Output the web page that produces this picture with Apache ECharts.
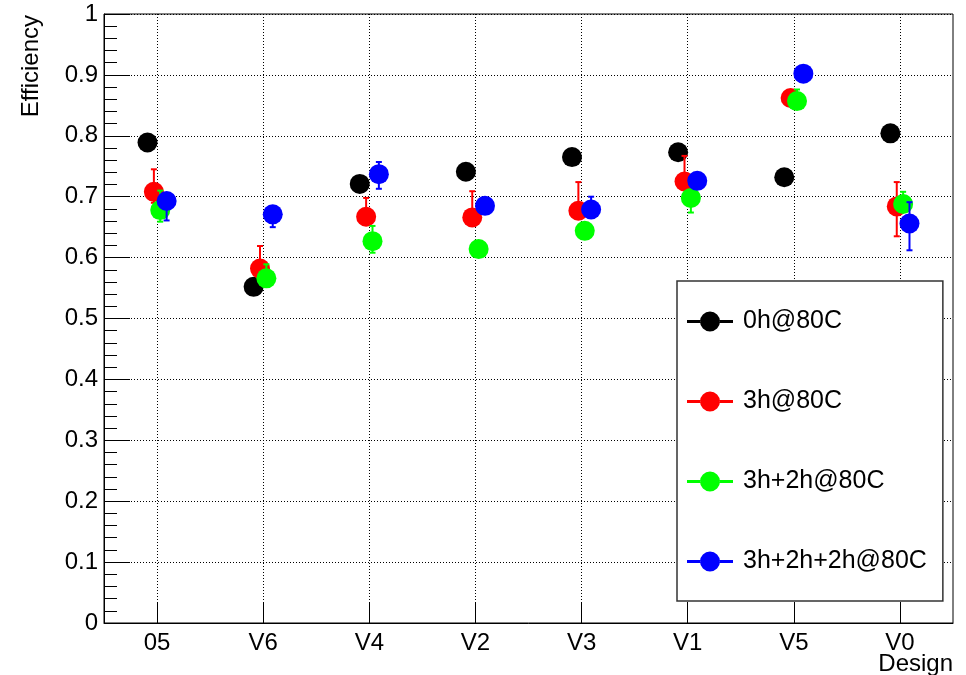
<!DOCTYPE html>
<html>
<head>
<meta charset="utf-8">
<script src="https://cdn.jsdelivr.net/npm/echarts@6/dist/echarts.min.js"></script>
<style>
html,body{margin:0;padding:0;background:#fff;}
#chart{width:966px;height:675px;}
</style>
</head>
<body>
<div id="chart"></div>
<script>
// ---- data ----
const categories = ['05', 'V6', 'V4', 'V2', 'V3', 'V1', 'V5', 'V0'];
const yTicks = [0, 0.1, 0.2, 0.3, 0.4, 0.5, 0.6, 0.7, 0.8, 0.9, 1];
const seriesNames = ['0h@80C', '3h@80C', '3h+2h@80C', '3h+2h+2h@80C'];

const eff0h       = [0.789, 0.552, 0.721, 0.741, 0.765, 0.773, 0.732, 0.804];
const eff3h       = [0.708, 0.582, 0.667, 0.666, 0.677, 0.725, 0.862, 0.684];
const eff3h2h     = [0.678, 0.566, 0.627, 0.614, 0.644, 0.698, 0.857, 0.688];
const eff3h2h2h   = [0.693, 0.671, 0.737, 0.685, 0.679, 0.726, 0.902, 0.656];

const errLow0h     = [0.010, 0.010, 0.010, 0.010, 0.010, 0.010, 0.010, 0.010];
const errHigh0h    = [0.010, 0.010, 0.010, 0.010, 0.010, 0.010, 0.010, 0.010];
const errLow3h     = [0.018, 0.015, 0.012, 0.012, 0.012, 0.012, 0.012, 0.049];
const errHigh3h    = [0.037, 0.037, 0.031, 0.043, 0.047, 0.042, 0.012, 0.040];
const errLow3h2h   = [0.019, 0.012, 0.019, 0.012, 0.012, 0.024, 0.012, 0.012];
const errHigh3h2h  = [0.032, 0.023, 0.025, 0.012, 0.012, 0.012, 0.019, 0.020];
const errLow3h2h2h = [0.032, 0.021, 0.024, 0.012, 0.012, 0.012, 0.012, 0.044];
const errHigh3h2h2h= [0.012, 0.012, 0.020, 0.012, 0.021, 0.012, 0.012, 0.035];

// ---- styling ----
const FONT = 'Liberation Sans, Arial, Helvetica, sans-serif';
const colors = ['#000000', '#ff0000', '#00ff00', '#0000ff'];
const offsets = [-0.09, -0.03, 0.03, 0.09];
const values = [eff0h, eff3h, eff3h2h, eff3h2h2h];
const lows = [errLow0h, errLow3h, errLow3h2h, errLow3h2h2h];
const highs = [errHigh0h, errHigh3h, errHigh3h2h, errHigh3h2h2h];

const legendIcon = 'path://M13,10 A10,10 0 1,0 33,10 A10,10 0 1,0 13,10 Z M0,8.5 L13.2,8.5 L13.2,11.5 L0,11.5 Z M32.8,8.5 L46,8.5 L46,11.5 L32.8,11.5 Z';

function errRender(color) {
  return function (params, api) {
    const x = api.value(0), y = api.value(1), lo = api.value(2), hi = api.value(3);
    const pT = api.coord([x, y + hi]);
    const pB = api.coord([x, y - lo]);
    const c = 3;
    const st = { stroke: color, lineWidth: 2 };
    return {
      type: 'group',
      children: [
        { type: 'line', shape: { x1: pT[0], y1: pT[1], x2: pB[0], y2: pB[1] }, style: st },
        { type: 'line', shape: { x1: pT[0] - c, y1: pT[1], x2: pT[0] + c, y2: pT[1] }, style: st },
        { type: 'line', shape: { x1: pB[0] - c, y1: pB[1], x2: pB[0] + c, y2: pB[1] }, style: st }
      ]
    };
  };
}

const series = [];
seriesNames.forEach(function (name, k) {
  const errData = values[k].map(function (v, i) { return [i + offsets[k], v, lows[k][i], highs[k][i]]; });
  const ptData = values[k].map(function (v, i) { return [i + offsets[k], v]; });
  series.push({
    name: name + ' errors',
    type: 'custom',
    xAxisIndex: 1,
    yAxisIndex: 0,
    z: 2 + 2 * k,
    silent: true,
    encode: { x: 0, y: 1 },
    renderItem: errRender(colors[k]),
    data: errData
  });
  series.push({
    name: name,
    type: 'scatter',
    xAxisIndex: 1,
    yAxisIndex: 0,
    z: 3 + 2 * k,
    symbol: 'circle',
    symbolSize: 20,
    itemStyle: { color: colors[k], opacity: 1 },
    emphasis: { disabled: true },
    data: ptData
  });
});

const chart = echarts.init(document.getElementById('chart'), null, { renderer: 'canvas' });
chart.setOption({
  animation: false,
  backgroundColor: '#ffffff',
  textStyle: { fontFamily: FONT },
  grid: {
    left: 104, top: 14, width: 849, height: 609,
    show: true, borderColor: '#000', borderWidth: 1, backgroundColor: 'transparent'
  },
  xAxis: [
    {
      type: 'category',
      data: categories,
      boundaryGap: true,
      axisLine: { show: true, onZero: false, lineStyle: { color: '#000', width: 1 } },
      axisTick: { show: true, inside: true, length: 20, alignWithLabel: true, interval: 0, lineStyle: { color: '#000', width: 1 } },
      axisLabel: { show: true, interval: 0, margin: 8, color: '#000', fontSize: 24, fontFamily: FONT },
      splitLine: { show: true, alignWithLabel: true, interval: 0, lineStyle: { color: '#000', width: 1, type: [1, 2] } }
    },
    {
      type: 'value',
      min: -0.5,
      max: 7.5,
      show: false,
      axisLine: { onZero: false },
      splitLine: { show: false }
    }
  ],
  yAxis: {
    type: 'value',
    min: yTicks[0],
    max: yTicks[yTicks.length - 1],
    interval: 0.1,
    axisLine: { show: true, onZero: false, lineStyle: { color: '#000', width: 1 } },
    axisTick: { show: true, inside: true, length: 26, lineStyle: { color: '#000', width: 1 } },
    minorTick: { show: true, splitNumber: 5, length: 13, lineStyle: { color: '#000', width: 1 } },
    axisLabel: { show: true, margin: 6, color: '#000', fontSize: 24, fontFamily: FONT },
    splitLine: { show: true, lineStyle: { color: '#000', width: 1, type: [1, 2] } },
    minorSplitLine: { show: false }
  },
  legend: {
    orient: 'vertical',
    left: 677,
    top: 281,
    data: seriesNames,
    selectedMode: false,
    icon: legendIcon,
    itemWidth: 46,
    itemHeight: 20,
    itemGap: 55,
    padding: [28, 16, 27, 10],
    borderColor: '#333',
    borderWidth: 1.5,
    backgroundColor: '#ffffff',
    textStyle: { color: '#000', fontSize: 25, fontFamily: FONT, lineHeight: 20, padding: [0, 0, 0, 5] }
  },
  graphic: [
    {
      type: 'text',
      x: 31, y: 15,
      rotation: Math.PI / 2,
      style: { text: 'Efficiency', font: '24px ' + FONT, fill: '#000', align: 'right', verticalAlign: 'middle' }
    },
    {
      type: 'text',
      x: 953, y: 664,
      style: { text: 'Design', font: '24px ' + FONT, fill: '#000', align: 'right', verticalAlign: 'middle' }
    }
  ],
  series: series
});
</script>
</body>
</html>
